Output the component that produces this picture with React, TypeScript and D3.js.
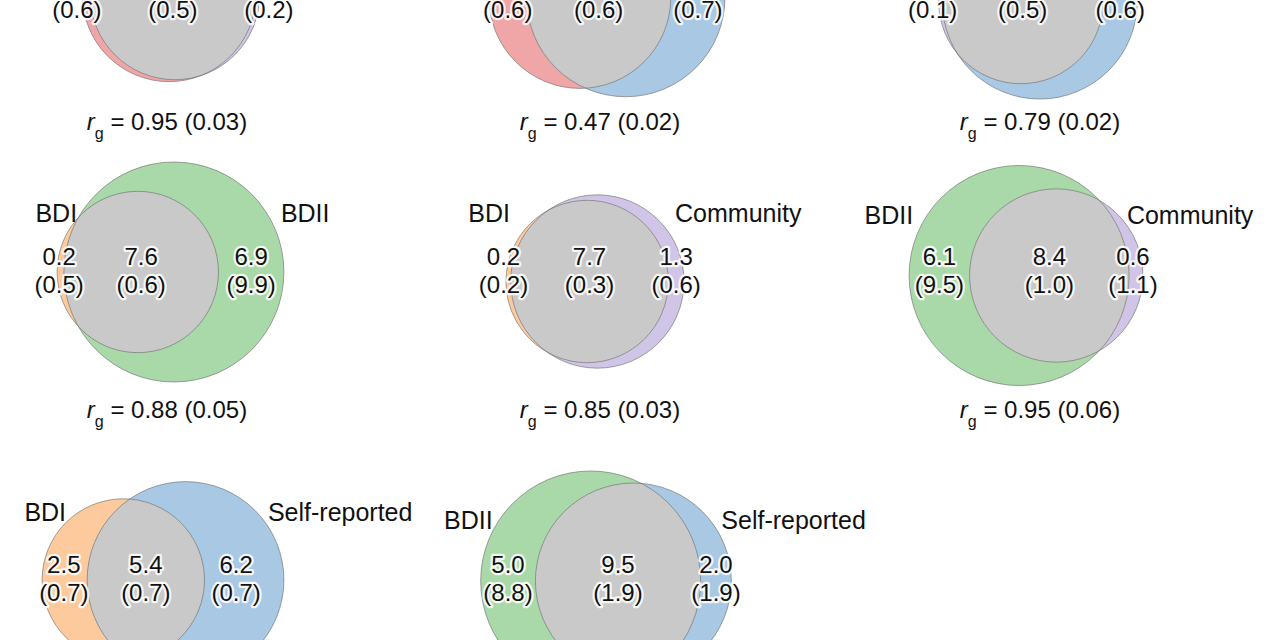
import React from "react";
import * as d3 from "d3";

// ---- data ----
const setA = ["Clinical", "Clinical", "Community", "BDI", "BDI", "BDII", "BDI", "BDII"];
const setB = ["Community", "Self-reported", "Self-reported", "BDII", "Community", "Community", "Self-reported", "Self-reported"];
const onlyA = [0.6, 2.4, 0.1, 0.2, 0.2, 6.1, 2.5, 5.0];
const shared = [8.4, 7.5, 8.0, 7.6, 7.7, 8.4, 5.4, 9.5];
const onlyB = [0.2, 4.3, 3.4, 6.9, 1.3, 0.6, 6.2, 2.0];
const seA = [0.6, 0.6, 0.1, 0.5, 0.2, 9.5, 0.7, 8.8];
const seShared = [0.5, 0.6, 0.5, 0.6, 0.3, 1.0, 0.7, 1.9];
const seB = [0.2, 0.7, 0.6, 9.9, 0.6, 1.1, 0.7, 1.9];
const rg: (number | null)[] = [0.95, 0.47, 0.79, 0.88, 0.85, 0.95, null, null];
const rgSE: (number | null)[] = [0.03, 0.02, 0.02, 0.05, 0.03, 0.06, null, null];

const COLORS: Record<string, string> = {
  Clinical: "#F0A5A7",
  Community: "#D0C5E7",
  "Self-reported": "#A8C8E4",
  BDI: "#FCCA9C",
  BDII: "#A9D9A8",
};
const GRAY = "#C9C9C9";

// ---- layout (panel placement) ----
const layout = [
  { cx: 171, cy: -5, labelY: -4, nameY: -66, offL: 10, offR: 40, rgX: 167, rgY: 122, sep: 96, shiftB: 0 },
  { cx: 607, cy: -2.5, labelY: -4, nameY: -66, offL: 10, offR: 95, rgX: 600, rgY: 122, sep: 82, shiftB: 0 },
  { cx: 1038, cy: 1.5, labelY: -4, nameY: -66, offL: 10, offR: 10, rgX: 1040, rgY: 122, sep: 90, shiftB: 0 },
  { cx: 170.5, cy: 272, labelY: 271, nameY: 213, offL: 20, offR: 3, rgX: 167, rgY: 410, sep: 82, shiftB: 0 },
  { cx: 595, cy: 281.5, labelY: 271, nameY: 213, offL: 4, offR: 9, rgX: 600, rgY: 410, sep: 86, shiftB: 0 },
  { cx: 1026, cy: 275.5, labelY: 271, nameY: 215, offL: 4, offR: 16, rgX: 1040, rgY: 410, sep: 82, shiftB: -3 },
  { cx: 163, cy: 580, labelY: 579, nameY: 512, offL: 24, offR: 16, rgX: 163, rgY: 716, sep: 82, shiftB: -8 },
  { cx: 606, cy: 581, labelY: 579, nameY: 520, offL: 12, offR: 10, rgX: 600, rgY: 716, sep: 82, shiftB: 0 },
];

const rScale = d3.scaleSqrt().domain([0, 14.5]).range([0, 110]);

function lensArea(r1: number, r2: number, d: number) {
  if (d >= r1 + r2) return 0;
  if (d <= Math.abs(r1 - r2)) return Math.PI * Math.min(r1, r2) ** 2;
  const a = r1 * r1 * Math.acos((d * d + r1 * r1 - r2 * r2) / (2 * d * r1));
  const b = r2 * r2 * Math.acos((d * d + r2 * r2 - r1 * r1) / (2 * d * r2));
  const c = 0.5 * Math.sqrt((-d + r1 + r2) * (d + r1 - r2) * (d - r1 + r2) * (d + r1 + r2));
  return a + b - c;
}

function solveDistance(r1: number, r2: number, target: number) {
  let lo = Math.abs(r1 - r2);
  let hi = r1 + r2;
  for (let i = 0; i < 80; i++) {
    const mid = (lo + hi) / 2;
    if (lensArea(r1, r2, mid) > target) lo = mid;
    else hi = mid;
  }
  return (lo + hi) / 2;
}

const FONT = "'Liberation Sans', Arial, Helvetica, sans-serif";
const NUM_FS = 24;
const NAME_FS = 25;

function Halo({ x, y, text, anchor = "middle", fs = NUM_FS }: any) {
  return (
    <text
      x={x}
      y={y}
      textAnchor={anchor}
      fontSize={fs}
      fontFamily={FONT}
      fill="#111"
      stroke="#fff"
      strokeWidth={4.5}
      strokeOpacity={0.85}
      strokeLinejoin="round"
      style={{ paintOrder: "stroke" }}
    >
      {text}
    </text>
  );
}

function Panel({ i }: { i: number }) {
  const L = layout[i];
  const totA = onlyA[i] + shared[i];
  const totB = onlyB[i] + shared[i];
  const rA = rScale(totA);
  const rB = rScale(totB);
  const target = Math.PI * rScale(shared[i]) ** 2;
  const d = solveDistance(rA, rB, target);
  const left0 = Math.min(-rA, d - rB);
  const right0 = Math.max(rA, d + rB);
  const shift = L.cx - (left0 + right0) / 2;
  const cA = shift;
  const cB = shift + d;
  const cy = L.cy;
  const ext = [cA - rA, cB - rB, cA + rA, cB + rB];
  const unionL = Math.min(ext[0], ext[1]);
  const unionR = Math.max(ext[2], ext[3]);
  const posC = (Math.max(ext[0], ext[1]) + Math.min(ext[2], ext[3])) / 2;
  let posA = (ext[0] + ext[1]) / 2;
  let posB = (ext[2] + ext[3]) / 2 + L.shiftB;
  posA = Math.min(posA, posC - L.sep);
  posB = Math.max(posB, posC + L.sep);
  const fmt = d3.format(".1f");
  const fmt2 = d3.format(".2f");
  const line1 = L.labelY - 14 + 0.35 * NUM_FS;
  const line2 = L.labelY + 14 + 0.35 * NUM_FS;
  const clipId = `clipA${i}`;
  const nameBase = L.nameY + 0.36 * NAME_FS;
  return (
    <g>
      <defs>
        <clipPath id={clipId}>
          <circle cx={cA} cy={cy} r={rA} />
        </clipPath>
      </defs>
      <circle cx={cA} cy={cy} r={rA} fill={COLORS[setA[i]]} />
      <circle cx={cB} cy={cy} r={rB} fill={COLORS[setB[i]]} />
      <circle cx={cB} cy={cy} r={rB} fill={GRAY} clipPath={`url(#${clipId})`} />
      <circle cx={cA} cy={cy} r={rA} fill="none" stroke="#6f6f6f" strokeWidth={0.8} strokeOpacity={0.8} />
      <circle cx={cB} cy={cy} r={rB} fill="none" stroke="#6f6f6f" strokeWidth={0.8} strokeOpacity={0.8} />

      <text x={unionL + L.offL} y={nameBase} textAnchor="end" fontSize={NAME_FS} fontFamily={FONT} fill="#111">
        {setA[i]}
      </text>
      <text x={unionR - L.offR} y={nameBase} textAnchor="start" fontSize={NAME_FS} fontFamily={FONT} fill="#111">
        {setB[i]}
      </text>

      <Halo x={posA} y={line1} text={fmt(onlyA[i])} />
      <Halo x={posA} y={line2} text={`(${fmt(seA[i])})`} />
      <Halo x={posC} y={line1} text={fmt(shared[i])} />
      <Halo x={posC} y={line2} text={`(${fmt(seShared[i])})`} />
      <Halo x={posB} y={line1} text={fmt(onlyB[i])} />
      <Halo x={posB} y={line2} text={`(${fmt(seB[i])})`} />

      {rg[i] !== null && (
        <text x={L.rgX} y={L.rgY + 0.35 * NUM_FS} textAnchor="middle" fontSize={NUM_FS} fontFamily={FONT} fill="#111">
          <tspan fontStyle="italic">r</tspan>
          <tspan fontSize={16} dy={9}>g</tspan>
          <tspan dy={-9}>{` = ${fmt2(rg[i] as number)} (${fmt2(rgSE[i] as number)})`}</tspan>
        </text>
      )}
    </g>
  );
}

export default function App() {
  return (
    <svg
      width={1280}
      height={640}
      viewBox="0 0 1280 640"
      style={{ position: "absolute", left: 0, top: 0, display: "block", background: "#fff" }}
    >
      <rect x={0} y={0} width={1280} height={640} fill="#fff" />
      {setA.map((_, i) => (
        <Panel key={i} i={i} />
      ))}
    </svg>
  );
}
